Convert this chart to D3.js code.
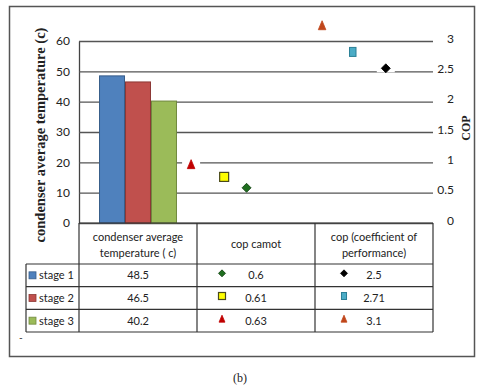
<!DOCTYPE html>
<html>
<head>
<meta charset="utf-8">
<script src="https://cdn.jsdelivr.net/npm/d3@7"></script>
<style>
  body { margin: 0; background: #fff; }
  text { font-family: Lato, "Liberation Sans", sans-serif; fill: #222; }
</style>
</head>
<body>
<div id="container"></div>
<script>
let w = 480;
let h = 390;

let stages = ["stage 1", "stage 2", "stage 3"];
let categories = ["temp", "carnot", "cop"];
let headerLines = [["condenser average", "temperature ( c)"], ["cop camot"], ["cop (coefficient of", "performance)"]];
let condenserTemp = [48.5, 46.5, 40.2];
let copCarnot = [0.6, 0.61, 0.63];
let cop = [2.5, 2.71, 3.1];
// where the markers sit in the picture (x in category units, y in COP units)
let carnotX = [1.42, 1.23, 0.95];
let carnotY = [0.58, 0.76, 0.97];
let copX = [2.60, 2.32, 2.06];
let copY = [2.55, 2.82, 3.26];
let leftTicks = [0, 10, 20, 30, 40, 50, 60];
let rightTicks = [0, 0.5, 1, 1.5, 2, 2.5, 3];

let barFill = ["#4f81bd", "#c0504d", "#9bbb59"];
let barStroke = ["#385d8a", "#8c3836", "#71893f"];
let carnotMarks = [
  { shape: "diamond", fill: "#1f6e1f", stroke: "#0b3b0b", size: 9 },
  { shape: "square", fill: "#ffff00", stroke: "#4a4a1a", size: 9 },
  { shape: "triangle", fill: "#c00000", stroke: "#c00000", size: 9 }
];
let copMarks = [
  { shape: "diamond", fill: "#000", stroke: "#000", size: 9 },
  { shape: "rect", fill: "#4bacc6", stroke: "#2a7f96", size: 9 },
  { shape: "triangle", fill: "#c0461b", stroke: "#c0461b", size: 9 }
];

let plotLeft = 79, plotRight = 433, plotTop = 41, plotBottom = 223;

let svg = d3.select("#container")
  .append("svg")
  .attr("width", w)
  .attr("height", h);

// outer frame
svg.append("rect")
  .attr("x", 9.5).attr("y", 6.5)
  .attr("width", 465).attr("height", 350)
  .attr("fill", "none").attr("stroke", "#555").attr("stroke-width", 1.5);

let xScale = d3.scaleBand().domain(categories).range([plotLeft, plotRight]);
let xPos = d3.scaleLinear().domain([0, 3]).range([plotLeft, plotRight]);
let stageBand = d3.scaleBand().domain(stages).range([0, xScale.bandwidth()]).paddingOuter(0.77);
let yLeft = d3.scaleLinear().domain([0, 60]).range([plotBottom, plotTop]);
let yRight = d3.scaleLinear().domain([0, 3]).range([plotBottom, plotTop]);

// grid + left axis
let yAxisGroup = svg.append("g").attr("transform", "translate(" + plotLeft + ",0)");
yAxisGroup.call(d3.axisLeft(yLeft).tickValues(leftTicks).tickSizeInner(-(plotRight - plotLeft)).tickSizeOuter(0).tickPadding(9));
yAxisGroup.select(".domain").attr("stroke", "#444").attr("stroke-width", 1.3);
yAxisGroup.selectAll(".tick line").attr("stroke", "#555").attr("stroke-width", 1.3);
yAxisGroup.selectAll(".tick text").attr("font-size", 12).style("font-family", "Lato").attr("fill", "#222");

// right axis labels
let yAxisRight = svg.append("g").attr("transform", "translate(" + plotRight + ",0)");
yAxisRight.call(d3.axisRight(yRight).tickValues(rightTicks).tickSize(0).tickFormat(d3.format("")));
yAxisRight.select(".domain").remove();
yAxisRight.selectAll(".tick text")
  .attr("x", 21).attr("text-anchor", "end").attr("dy", "0.1em")
  .attr("font-size", 12).style("font-family", "Lato").attr("fill", "#222");

// bars
svg.append("g").selectAll("rect")
  .data(condenserTemp)
  .join("rect")
  .attr("x", (d, i) => xScale("temp") + stageBand(stages[i]) + 0.5)
  .attr("y", d => yLeft(d))
  .attr("width", stageBand.bandwidth() - 1)
  .attr("height", d => yLeft(0) - yLeft(d))
  .attr("fill", (d, i) => barFill[i])
  .attr("stroke", (d, i) => barStroke[i])
  .attr("stroke-width", 1);

function drawMarker(g, m, x, y, halo) {
  if (halo) {
    g.append("rect").attr("x", x - 9).attr("y", y - 4).attr("width", 18).attr("height", 8).attr("fill", "#fff");
  }
  let s = m.size;
  if (m.shape === "diamond") {
    let r = s / 2;
    g.append("path").attr("d", "M0," + (-r) + "L" + r + ",0L0," + r + "L" + (-r) + ",0Z")
      .attr("transform", "translate(" + x + "," + y + ")")
      .attr("fill", m.fill).attr("stroke", m.stroke).attr("stroke-width", 0.8);
  } else if (m.shape === "square") {
    g.append("rect").attr("x", x - s / 2).attr("y", y - s / 2).attr("width", s).attr("height", s)
      .attr("fill", m.fill).attr("stroke", m.stroke).attr("stroke-width", 1.2);
  } else if (m.shape === "rect") {
    g.append("rect").attr("x", x - s * 0.36).attr("y", y - s / 2).attr("width", s * 0.72).attr("height", s)
      .attr("fill", m.fill).attr("stroke", m.stroke).attr("stroke-width", 1);
  } else {
    g.append("path").attr("d", "M0," + (-s / 2) + "L" + (s * 0.42) + "," + (s / 2) + "L" + (-s * 0.42) + "," + (s / 2) + "Z")
      .attr("transform", "translate(" + x + "," + y + ")")
      .attr("fill", m.fill).attr("stroke", m.stroke).attr("stroke-width", 0.8);
  }
}

// plot markers
let markerGroup = svg.append("g");
stages.forEach((s, i) => {
  drawMarker(markerGroup, carnotMarks[i], xPos(carnotX[i]), yRight(carnotY[i]), true);
  drawMarker(markerGroup, copMarks[i], xPos(copX[i]), yRight(copY[i]), true);
});

// axis titles
svg.append("text")
  .attr("transform", "translate(45," + 135 + ") rotate(-90)")
  .attr("text-anchor", "middle")
  .style("font-family", "'Liberation Serif', serif")
  .attr("font-weight", "bold").attr("font-size", 14.5)
  .text("condenser average temperature (c)");

svg.append("text")
  .attr("transform", "translate(470,128) rotate(-90)")
  .attr("text-anchor", "middle")
  .style("font-family", "'Liberation Serif', serif")
  .attr("font-weight", "bold").attr("font-size", 12)
  .text("COP");

// data table
let rowScale = d3.scaleBand().domain(stages).range([264, 332]);
let table = svg.append("g").attr("stroke", "#333").attr("stroke-width", 1.2);
let legendLeft = 26;

// horizontal lines
table.append("line").attr("x1", plotLeft).attr("x2", plotRight).attr("y1", plotBottom).attr("y2", plotBottom);
stages.forEach(s => {
  table.append("line").attr("x1", legendLeft).attr("x2", plotRight).attr("y1", rowScale(s)).attr("y2", rowScale(s));
});
table.append("line").attr("x1", legendLeft).attr("x2", plotRight).attr("y1", 332).attr("y2", 332);
// vertical lines
table.append("line").attr("x1", legendLeft).attr("x2", legendLeft).attr("y1", 264).attr("y2", 332);
categories.forEach(c => {
  table.append("line").attr("x1", xScale(c)).attr("x2", xScale(c)).attr("y1", plotBottom).attr("y2", 332);
});
table.append("line").attr("x1", plotRight).attr("x2", plotRight).attr("y1", plotBottom).attr("y2", 332);

// header text
categories.forEach((c, ci) => {
  let lines = headerLines[ci];
  let cx = xScale(c) + xScale.bandwidth() / 2;
  let startY = lines.length === 1 ? 248 : 241;
  lines.forEach((t, li) => {
    svg.append("text").attr("x", cx).attr("y", startY + li * 16)
      .attr("text-anchor", "middle").attr("font-size", 11).text(t);
  });
});

// rows
stages.forEach((s, i) => {
  let cy = rowScale(s) + rowScale.bandwidth() / 2;
  svg.append("rect").attr("x", 29).attr("y", cy - 3.5).attr("width", 7).attr("height", 7)
    .attr("fill", barFill[i]).attr("stroke", barStroke[i]).attr("stroke-width", 0.8);
  svg.append("text").attr("x", 39).attr("y", cy + 4).attr("font-size", 11).text(s);

  svg.append("text").attr("x", xScale("temp") + xScale.bandwidth() / 2).attr("y", cy + 4)
    .attr("text-anchor", "middle").attr("font-size", 11).text(condenserTemp[i]);

  let m1 = Object.assign({}, carnotMarks[i], { size: 7 });
  drawMarker(svg, m1, xScale("carnot") + 25, cy - 2, false);
  svg.append("text").attr("x", xScale("carnot") + xScale.bandwidth() / 2).attr("y", cy + 4)
    .attr("text-anchor", "middle").attr("font-size", 11).text(copCarnot[i]);

  let m2 = Object.assign({}, copMarks[i], { size: 7 });
  drawMarker(svg, m2, xScale("cop") + 29, cy - 2, false);
  svg.append("text").attr("x", xScale("cop") + xScale.bandwidth() / 2).attr("y", cy + 4)
    .attr("text-anchor", "middle").attr("font-size", 11).text(cop[i]);
});

svg.append("text").attr("x", 19).attr("y", 341).attr("font-size", 10).text("-");

svg.append("text").attr("x", 240).attr("y", 382).attr("text-anchor", "middle")
  .style("font-family", "'Liberation Serif', serif").attr("font-size", 12).text("(b)");
</script>
</body>
</html>
